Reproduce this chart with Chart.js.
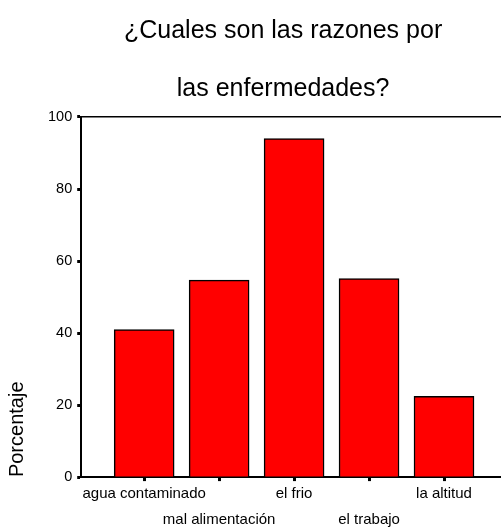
<!DOCTYPE html>
<html>
<head>
<meta charset="utf-8">
<script src="https://cdn.jsdelivr.net/npm/chart.js@4/dist/chart.umd.min.js"></script>
<style>
  html, body { margin: 0; padding: 0; background: #fff; }
  #wrap { width: 502px; height: 528px; }
</style>
</head>
<body>
<div id="wrap"><canvas id="chart"></canvas></div>
<script>
// data
const categories = ['agua contaminado', 'mal alimentación', 'el frio', 'el trabajo', 'la altitud'];
const porcentaje = [41, 54.7, 94, 55.1, 22.4];
const yTicks = [0, 20, 40, 60, 80, 100];
const titleLines = ['¿Cuales son las razones por', 'las enfermedades?'];

const FONT = "'Liberation Sans', Arial, sans-serif";

// bars sit at 1..n on a linear x axis so the frame can run past them
const points = porcentaje.map((v, i) => ({ x: i + 1, y: v }));
const xMin = 0.16, xMax = 5.747;

// every other label goes on a second row
function staggered(i) {
    return i % 2 === 0 ? categories[i] : ['', categories[i]];
}

// the title in the original is centred a bit left of the plot frame
const titleShift = {
    id: 'titleShift',
    afterLayout(chart) {
        if (chart.titleBlock) chart.titleBlock.left -= 15;
    }
};

const config = {
    type: 'bar',
    data: {
        datasets: [{
            data: points,
            backgroundColor: '#ff0000',
            borderColor: '#000000',
            borderWidth: 1.5,
            barThickness: 60
        }]
    },
    plugins: [titleShift],
    options: {
        responsive: true,
        maintainAspectRatio: false,
        animation: false,
        layout: { padding: { left: 0, right: 2, top: 0, bottom: -5 } },
        plugins: {
            legend: { display: false },
            tooltip: { enabled: false },
            title: {
                display: true,
                text: titleLines,
                fullSize: false,
                color: '#000',
                font: { family: FONT, size: 25, weight: 'normal', lineHeight: 2.32 },
                padding: { top: 2, bottom: -9 }
            }
        },
        scales: {
            x: {
                type: 'linear',
                position: 'bottom',
                offset: false,
                min: xMin,
                max: xMax,
                afterBuildTicks: (scale) => {
                    scale.ticks = categories.map((c, i) => ({ value: i + 1 }));
                },
                ticks: {
                    color: '#000',
                    padding: 0,
                    maxRotation: 0,
                    autoSkip: false,
                    font: { family: FONT, size: 15, lineHeight: 1.73 },
                    callback: (value) => staggered(value - 1)
                },
                grid: {
                    display: true,
                    offset: false,
                    drawOnChartArea: false,
                    drawTicks: true,
                    tickLength: 4,
                    tickWidth: 3,
                    tickColor: '#000'
                },
                border: { display: true, color: '#000', width: 2 }
            },
            xTop: {
                type: 'linear',
                position: 'top',
                offset: false,
                min: xMin,
                max: xMax,
                ticks: { display: false },
                grid: { display: false, offset: false },
                border: { display: true, color: '#000', width: 1.5 }
            },
            y: {
                position: 'left',
                min: 0,
                max: 100,
                afterBuildTicks: (scale) => {
                    scale.ticks = yTicks.map(v => ({ value: v }));
                },
                ticks: {
                    color: '#000',
                    padding: 5,
                    font: { family: FONT, size: 14.5 }
                },
                grid: {
                    display: true,
                    drawOnChartArea: false,
                    drawTicks: true,
                    tickLength: 4,
                    tickWidth: 3,
                    tickColor: '#000'
                },
                border: { display: true, color: '#000', width: 2 },
                title: {
                    display: true,
                    text: 'Porcentaje',
                    align: 'start',
                    color: '#000',
                    font: { family: FONT, size: 20, lineHeight: 1.2 },
                    padding: { top: 5, bottom: 14 }
                }
            }
        }
    }
};

new Chart(document.getElementById('chart'), config);
</script>
</body>
</html>
